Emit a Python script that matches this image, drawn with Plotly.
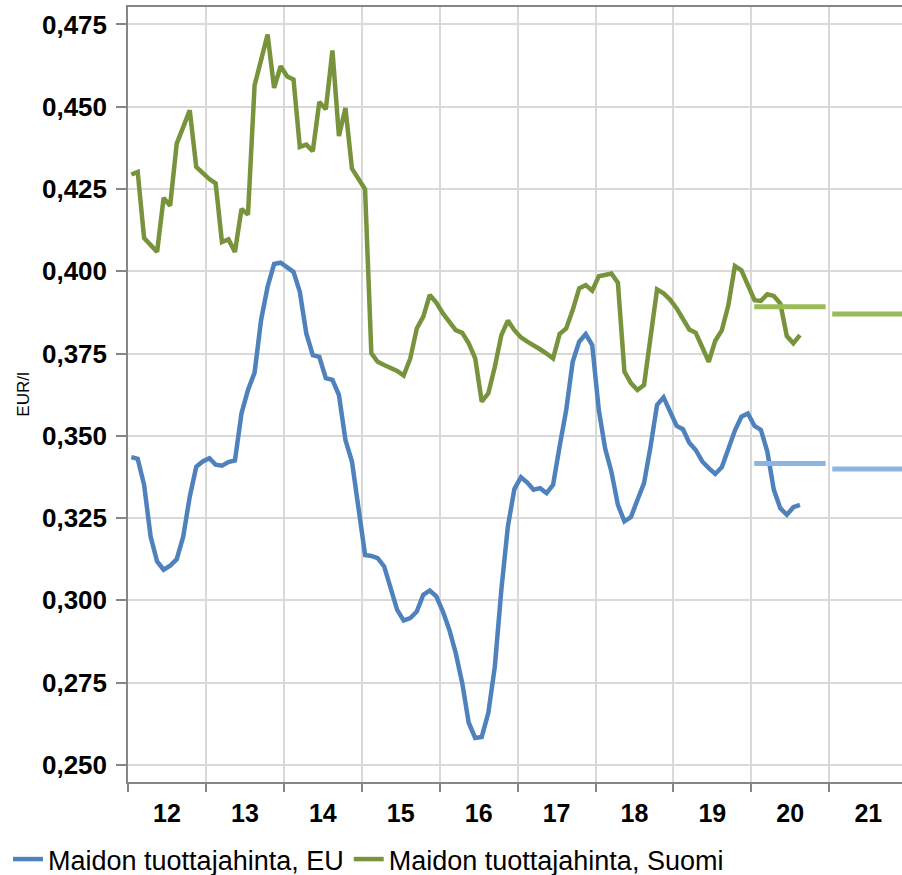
import pandas as pd
import plotly.graph_objects as go

# Monthly data Jan 2012 .. Aug 2020 (EUR/l)
start_month = "2012-01-01"
n_months = 104

eu_price = [
    0.3435, 0.3430, 0.3351, 0.3194, 0.3118, 0.3093, 0.3105, 0.3125, 0.3194, 0.3315, 0.3406, 0.3422,
    0.3432, 0.3412, 0.3409, 0.3420, 0.3425, 0.3568, 0.3639, 0.3692, 0.3852, 0.3953, 0.4022, 0.4026,
    0.4012, 0.3998, 0.3938, 0.3811, 0.3745, 0.3740, 0.3675, 0.3670, 0.3624, 0.3487, 0.3422, 0.3285,
    0.3138, 0.3135, 0.3128, 0.3103, 0.3032, 0.2971, 0.2939, 0.2946, 0.2966, 0.3017, 0.3030, 0.3012,
    0.2966, 0.2911, 0.2840, 0.2749, 0.2628, 0.2582, 0.2585, 0.2658, 0.2799, 0.3032, 0.3224, 0.3338,
    0.3374, 0.3358, 0.3336, 0.3341, 0.3326, 0.3351, 0.3467, 0.3578, 0.3725, 0.3786, 0.3809, 0.3776,
    0.3578, 0.3462, 0.3391, 0.3290, 0.3240, 0.3253, 0.3305, 0.3356, 0.3467, 0.3594, 0.3617, 0.3576,
    0.3530, 0.3520, 0.3479, 0.3457, 0.3422, 0.3402, 0.3384, 0.3405, 0.3462, 0.3516, 0.3558, 0.3568,
    0.3530, 0.3518, 0.3452, 0.3336, 0.3280, 0.3260, 0.3283, 0.3290,
]

fi_price = [
    0.4294, 0.4302, 0.4101, 0.4080, 0.4059, 0.4223, 0.4199, 0.4388, 0.4438, 0.4489, 0.4317, 0.4297,
    0.4280, 0.4267, 0.4089, 0.4097, 0.4059, 0.4189, 0.4172, 0.4565, 0.4636, 0.4719, 0.4557, 0.4623,
    0.4592, 0.4583, 0.4378, 0.4385, 0.4365, 0.4514, 0.4492, 0.4671, 0.4411, 0.4496, 0.4312, 0.4282,
    0.4249, 0.3751, 0.3725, 0.3715, 0.3705, 0.3697, 0.3683, 0.3735, 0.3826, 0.3862, 0.3928, 0.3905,
    0.3872, 0.3846, 0.3821, 0.3813, 0.3781, 0.3735, 0.3604, 0.3629, 0.3710, 0.3806, 0.3850, 0.3821,
    0.3799, 0.3786, 0.3776, 0.3763, 0.3750, 0.3735, 0.3809, 0.3826, 0.3882, 0.3948, 0.3958, 0.3941,
    0.3985, 0.3988, 0.3993, 0.3965, 0.3695, 0.3660, 0.3639, 0.3654, 0.3806, 0.3945, 0.3933, 0.3914,
    0.3887, 0.3857, 0.3823, 0.3813, 0.3771, 0.3725, 0.3789, 0.3821, 0.3897, 0.4016, 0.4003, 0.3958,
    0.3912, 0.3910, 0.3930, 0.3925, 0.3902, 0.3803, 0.3781, 0.3806,
]

# Annual forecast levels (2020, 2021)
forecast_years = [2020, 2021]
forecast_fi = [0.3892, 0.3870]
forecast_eu = [0.3416, 0.3399]

series_names = ["Maidon tuottajahinta, EU", "Maidon tuottajahinta, Suomi"]
y_ticks = [0.250, 0.275, 0.300, 0.325, 0.350, 0.375, 0.400, 0.425, 0.450, 0.475]
y_tick_labels = [f"{v:.3f}".replace(".", ",") for v in y_ticks]

dates = pd.date_range(start_month, periods=n_months, freq="MS")

BLUE = "#4F81BD"
GREEN = "#77933C"
LGREEN = "#9BBB59"
LBLUE = "#8EB4E3"
FONT = "Liberation Sans, Arial, sans-serif"

fig = go.Figure()
fig.add_trace(go.Scatter(x=dates, y=eu_price, mode="lines", name=series_names[0],
                         xperiod="M1", xperiodalignment="middle",
                         line=dict(color=BLUE, width=4.5)))
fig.add_trace(go.Scatter(x=dates, y=fi_price, mode="lines", name=series_names[1],
                         xperiod="M1", xperiodalignment="middle",
                         line=dict(color=GREEN, width=4.5)))

for yr, vfi, veu in zip(forecast_years, forecast_fi, forecast_eu):
    xs = [f"{yr}-01-15", f"{yr}-12-15" if yr == forecast_years[0] else f"{yr}-12-31"]
    fig.add_trace(go.Scatter(x=xs, y=[vfi, vfi], mode="lines", showlegend=False,
                             line=dict(color=LGREEN, width=5), hoverinfo="skip"))
    fig.add_trace(go.Scatter(x=xs, y=[veu, veu], mode="lines", showlegend=False,
                             line=dict(color=LBLUE, width=5), hoverinfo="skip"))

fig.update_layout(
    width=902, height=875,
    margin=dict(l=128, r=0, t=7, b=93, autoexpand=False),
    paper_bgcolor="white", plot_bgcolor="white",
    font=dict(family=FONT, color="black"),
    showlegend=True,
    legend=dict(orientation="h", x=0.0089, xref="container", xanchor="left",
                y=0.0177, yref="container", yanchor="middle",
                font=dict(size=27, color="black", family=FONT), bgcolor="rgba(0,0,0,0)",
                itemwidth=30, tracegroupgap=0),
)

fig.update_xaxes(
    type="date", range=["2012-01-01", "2021-12-08"],
    tick0="2012-01-01", dtick="M12", tickformat="%y", ticklabelmode="period",
    showgrid=True, gridcolor="#D9D9D9", gridwidth=1.5,
    showline=True, linecolor="#868686", linewidth=1.5, mirror=True,
    ticks="outside", ticklen=8, tickcolor="#868686", tickwidth=1.5,
    tickfont=dict(size=25, family=FONT, weight="bold"),
)
fig.update_yaxes(
    range=[0.2448, 0.4803],
    tickmode="array", tickvals=y_ticks, ticktext=y_tick_labels,
    showgrid=True, gridcolor="#D9D9D9", gridwidth=1.5,
    showline=True, linecolor="#868686", linewidth=1.5,
    ticks="outside", ticklen=10, tickcolor="#868686", tickwidth=1.5,
    ticklabelstandoff=4,
    tickfont=dict(size=26, family=FONT, weight="bold"),
    title=dict(text="EUR/l", font=dict(size=17, family=FONT), standoff=8),
    zeroline=False,
)

fig.write_html(
    "out.html",
    config={"displayModeBar": False},
    post_script="document.body.style.margin='0';document.body.style.overflow='hidden';"
                "document.documentElement.style.overflow='hidden';",
)
